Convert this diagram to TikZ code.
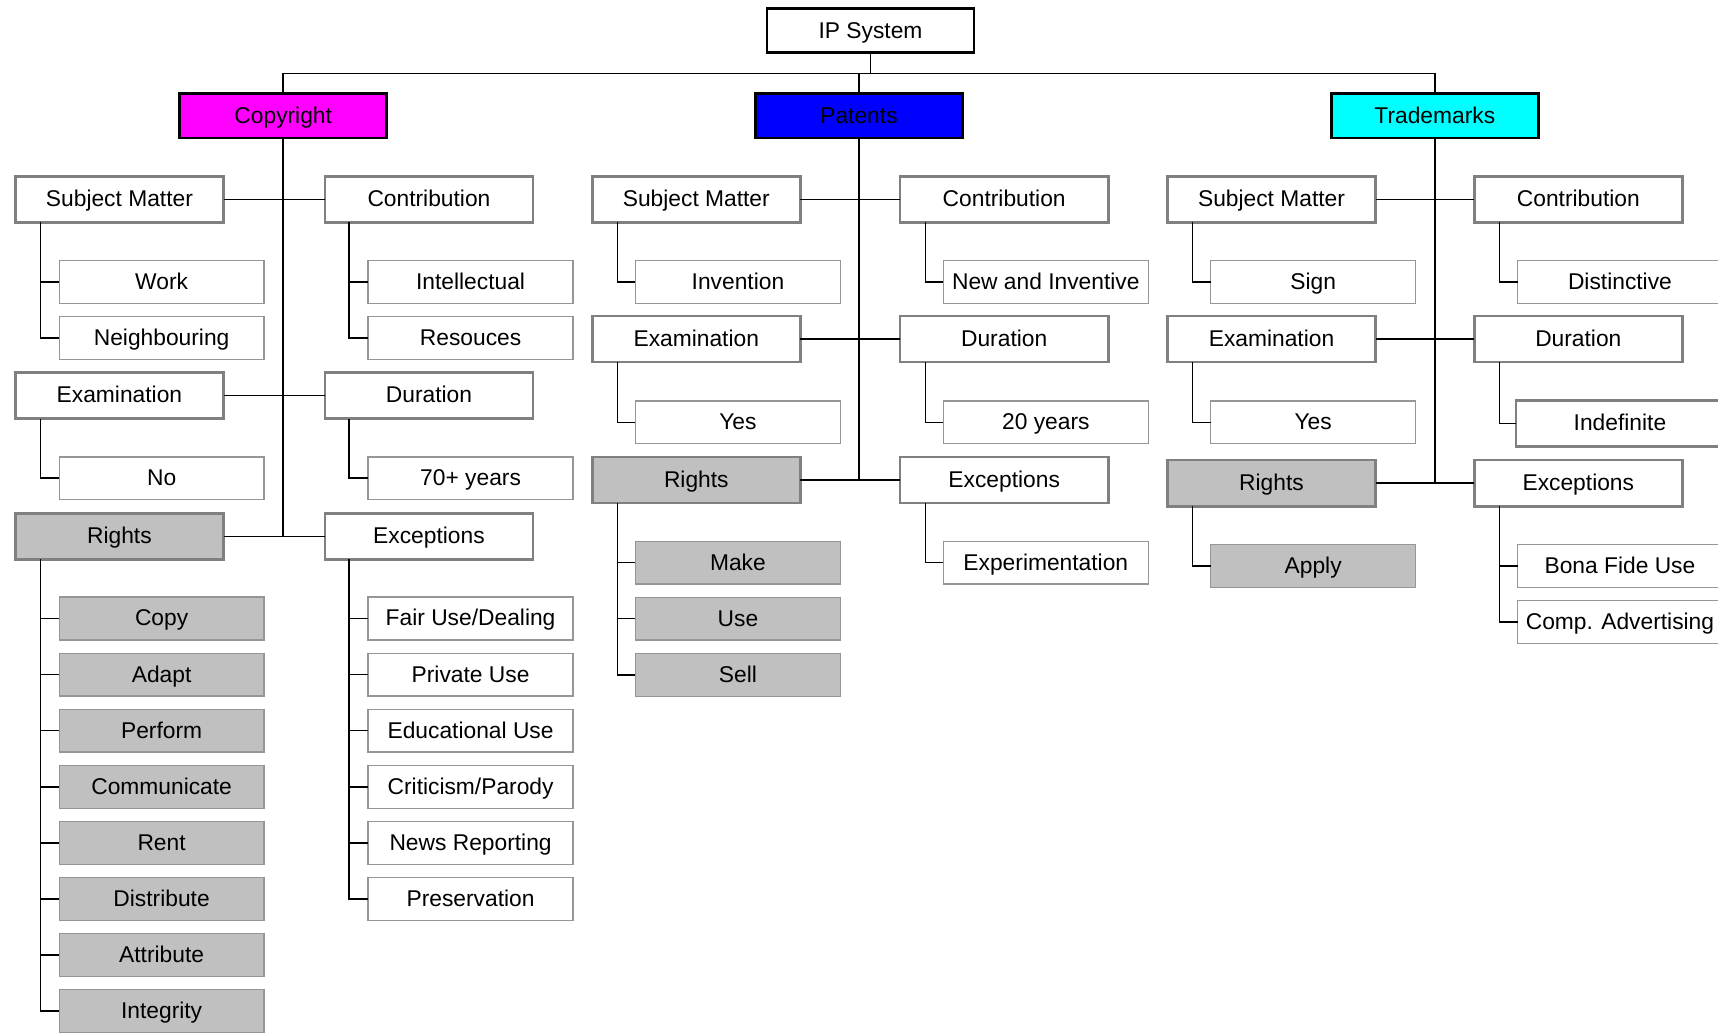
\documentclass[tikz,border=0pt]{standalone}
\usepackage{fontspec}
\setmainfont{Liberation Sans}
\usepackage{xcolor}
\usepackage{tikz}

\definecolor{boxgrey}{RGB}{192,192,192}
\definecolor{headline}{RGB}{128,128,128}
\definecolor{leafline}{RGB}{150,150,150}
\definecolor{copyfill}{RGB}{255,0,255}
\definecolor{patfill}{RGB}{0,0,255}
\definecolor{tradefill}{RGB}{0,255,255}

\begin{document}
\begin{tikzpicture}[x=0.5pt, y=-0.5pt, font=\fontsize{10.4}{12}\selectfont,
    inner sep=0pt, outer sep=0pt, line width=0.7pt,
    text height=0.78em, text depth=0.1em,
    root/.style={draw=black, line width=1.3pt, fill=white, minimum width=94.5pt, minimum height=20pt},
    area/.style={root, minimum height=20.5pt},
    head/.style={draw=headline, line width=1.2pt, fill=white, minimum width=95pt, minimum height=21pt},
    leaf/.style={draw=leafline, line width=0.6pt, fill=white, minimum width=93.5pt, minimum height=19.5pt},
    grey/.style={fill=boxgrey}]
    \useasboundingbox (0,0) rectangle (1568,942);
    \clip (0,0) rectangle (1568,942);

    \node[root] at (794.5, 28) (ip) {IP System};
    \coordinate (bus) at (0, 67);

    \node[area, fill=copyfill] at (258.5, 105.5) (copyright) {Copyright};
    \node[area, fill=patfill] at (784, 105.5) (patents) {Patents};
    \node[area, fill=tradefill] at (1309.5, 105.5) (trademarks) {Trademarks};

    % copyright
    \node[head] at (109, 182) (c-sm) {Subject Matter};
    \node[head] at (391.5, 182) (c-con) {Contribution};
    \node[leaf] at (147.5, 257.5) (c-work) {Work};
    \node[leaf] at (147.5, 308.5) (c-neigh) {Neighbouring};
    \node[leaf] at (429.5, 257.5) (c-int) {Intellectual};
    \node[leaf] at (429.5, 308.5) (c-res) {Resouces};
    \node[head] at (109, 361) (c-exam) {Examination};
    \node[head] at (391.5, 361) (c-dur) {Duration};
    \node[leaf] at (147.5, 436.5) (c-no) {No};
    \node[leaf] at (429.5, 436.5) (c-years) {70+ years};
    \node[head, grey] at (109, 489.5) (c-rights) {Rights};
    \node[head] at (391.5, 489.5) (c-exc) {Exceptions};
    \node[leaf, grey] at (147.5, 564.5) (c-copy) {Copy};
    \node[leaf, grey] at (147.5, 615.7) (c-adapt) {Adapt};
    \node[leaf, grey] at (147.5, 666.9) (c-perform) {Perform};
    \node[leaf, grey] at (147.5, 718.1) (c-comm) {Communicate};
    \node[leaf, grey] at (147.5, 769.3) (c-rent) {Rent};
    \node[leaf, grey] at (147.5, 820.5) (c-dist) {Distribute};
    \node[leaf, grey] at (147.5, 871.7) (c-attr) {Attribute};
    \node[leaf, grey] at (147.5, 922.9) (c-integ) {Integrity};
    \node[leaf] at (429.5, 564.5) (c-fair) {Fair Use/Dealing};
    \node[leaf] at (429.5, 615.7) (c-priv) {Private Use};
    \node[leaf] at (429.5, 666.9) (c-edu) {Educational Use};
    \node[leaf] at (429.5, 718.1) (c-crit) {Criticism/Parody};
    \node[leaf] at (429.5, 769.3) (c-news) {News Reporting};
    \node[leaf] at (429.5, 820.5) (c-pres) {Preservation};

    % patents
    \node[head] at (635.5, 182) (p-sm) {Subject Matter};
    \node[head] at (916.5, 182) (p-con) {Contribution};
    \node[leaf] at (673.5, 257.5) (p-inv) {Invention};
    \node[leaf] at (954.5, 257.5) (p-new) {New and Inventive};
    \node[head] at (635.5, 309.5) (p-exam) {Examination};
    \node[head] at (916.5, 309.5) (p-dur) {Duration};
    \node[leaf] at (673.5, 385.5) (p-yes) {Yes};
    \node[leaf] at (954.5, 385.5) (p-years) {20 years};
    \node[head, grey] at (635.5, 438) (p-rights) {Rights};
    \node[head] at (916.5, 438) (p-exc) {Exceptions};
    \node[leaf, grey] at (673.5, 513.5) (p-make) {Make};
    \node[leaf, grey] at (673.5, 564.7) (p-use) {Use};
    \node[leaf, grey] at (673.5, 615.9) (p-sell) {Sell};
    \node[leaf] at (954.5, 513.5) (p-exp) {Experimentation};

    % trademarks
    \node[head] at (1160.5, 182) (t-sm) {Subject Matter};
    \node[head] at (1440.5, 182) (t-con) {Contribution};
    \node[leaf] at (1198.5, 257.5) (t-sign) {Sign};
    \node[leaf] at (1478.5, 257.5) (t-dist) {Distinctive};
    \node[head] at (1160.5, 309.5) (t-exam) {Examination};
    \node[head] at (1440.5, 309.5) (t-dur) {Duration};
    \node[leaf] at (1198.5, 385.5) (t-yes) {Yes};
    \node[head] at (1478.5, 386.5) (t-indef) {Indefinite};
    \node[head, grey] at (1160.5, 441) (t-rights) {Rights};
    \node[head] at (1440.5, 441) (t-exc) {Exceptions};
    \node[leaf, grey] at (1198.5, 516.5) (t-apply) {Apply};
    \node[leaf] at (1478.5, 516.5) (t-bona) {Bona Fide Use};
    \node[leaf] at (1478.5, 567.7) (t-comp) {Comp. Advertising};

    % top level
    \draw (ip.south) -- (ip.south |- bus);
    \draw (copyright.north) -- (copyright.north |- bus) -- (trademarks.north |- bus) -- (trademarks.north);
    \draw (patents.north) -- (patents.north |- bus);

    \draw (copyright.south) -- (copyright.south |- c-rights);
    \draw (patents.south) -- (patents.south |- p-rights);
    \draw (trademarks.south) -- (trademarks.south |- t-rights);

    \draw (c-sm) -- (c-con);
    \draw (c-exam) -- (c-dur);
    \draw (c-rights) -- (c-exc);
    \draw (p-sm) -- (p-con);
    \draw (p-exam) -- (p-dur);
    \draw (p-rights) -- (p-exc);
    \draw (t-sm) -- (t-con);
    \draw (t-exam) -- (t-dur);
    \draw (t-rights) -- (t-exc);

    % branches
    \draw ([xshift=11.5pt]c-sm.south west) |- (c-work.west);
    \draw ([xshift=11.5pt]c-sm.south west) |- (c-neigh.west);
    \draw ([xshift=11pt]c-con.south west) |- (c-int.west);
    \draw ([xshift=11pt]c-con.south west) |- (c-res.west);
    \draw ([xshift=11.5pt]c-exam.south west) |- (c-no.west);
    \draw ([xshift=11pt]c-dur.south west) |- (c-years.west);
    \draw ([xshift=11.5pt]c-rights.south west) |- (c-copy.west);
    \draw ([xshift=11.5pt]c-rights.south west) |- (c-adapt.west);
    \draw ([xshift=11.5pt]c-rights.south west) |- (c-perform.west);
    \draw ([xshift=11.5pt]c-rights.south west) |- (c-comm.west);
    \draw ([xshift=11.5pt]c-rights.south west) |- (c-rent.west);
    \draw ([xshift=11.5pt]c-rights.south west) |- (c-dist.west);
    \draw ([xshift=11.5pt]c-rights.south west) |- (c-attr.west);
    \draw ([xshift=11.5pt]c-rights.south west) |- (c-integ.west);
    \draw ([xshift=11pt]c-exc.south west) |- (c-fair.west);
    \draw ([xshift=11pt]c-exc.south west) |- (c-priv.west);
    \draw ([xshift=11pt]c-exc.south west) |- (c-edu.west);
    \draw ([xshift=11pt]c-exc.south west) |- (c-crit.west);
    \draw ([xshift=11pt]c-exc.south west) |- (c-news.west);
    \draw ([xshift=11pt]c-exc.south west) |- (c-pres.west);

    \draw ([xshift=11.5pt]p-sm.south west) |- (p-inv.west);
    \draw ([xshift=11.5pt]p-con.south west) |- (p-new.west);
    \draw ([xshift=11.5pt]p-exam.south west) |- (p-yes.west);
    \draw ([xshift=11.5pt]p-dur.south west) |- (p-years.west);
    \draw ([xshift=11.5pt]p-rights.south west) |- (p-make.west);
    \draw ([xshift=11.5pt]p-rights.south west) |- (p-use.west);
    \draw ([xshift=11.5pt]p-rights.south west) |- (p-sell.west);
    \draw ([xshift=11.5pt]p-exc.south west) |- (p-exp.west);

    \draw ([xshift=11.5pt]t-sm.south west) |- (t-sign.west);
    \draw ([xshift=11.5pt]t-con.south west) |- (t-dist.west);
    \draw ([xshift=11.5pt]t-exam.south west) |- (t-yes.west);
    \draw ([xshift=11.5pt]t-dur.south west) |- (t-indef.west);
    \draw ([xshift=11.5pt]t-rights.south west) |- (t-apply.west);
    \draw ([xshift=11.5pt]t-exc.south west) |- (t-bona.west);
    \draw ([xshift=11.5pt]t-exc.south west) |- (t-comp.west);
\end{tikzpicture}
\end{document}
